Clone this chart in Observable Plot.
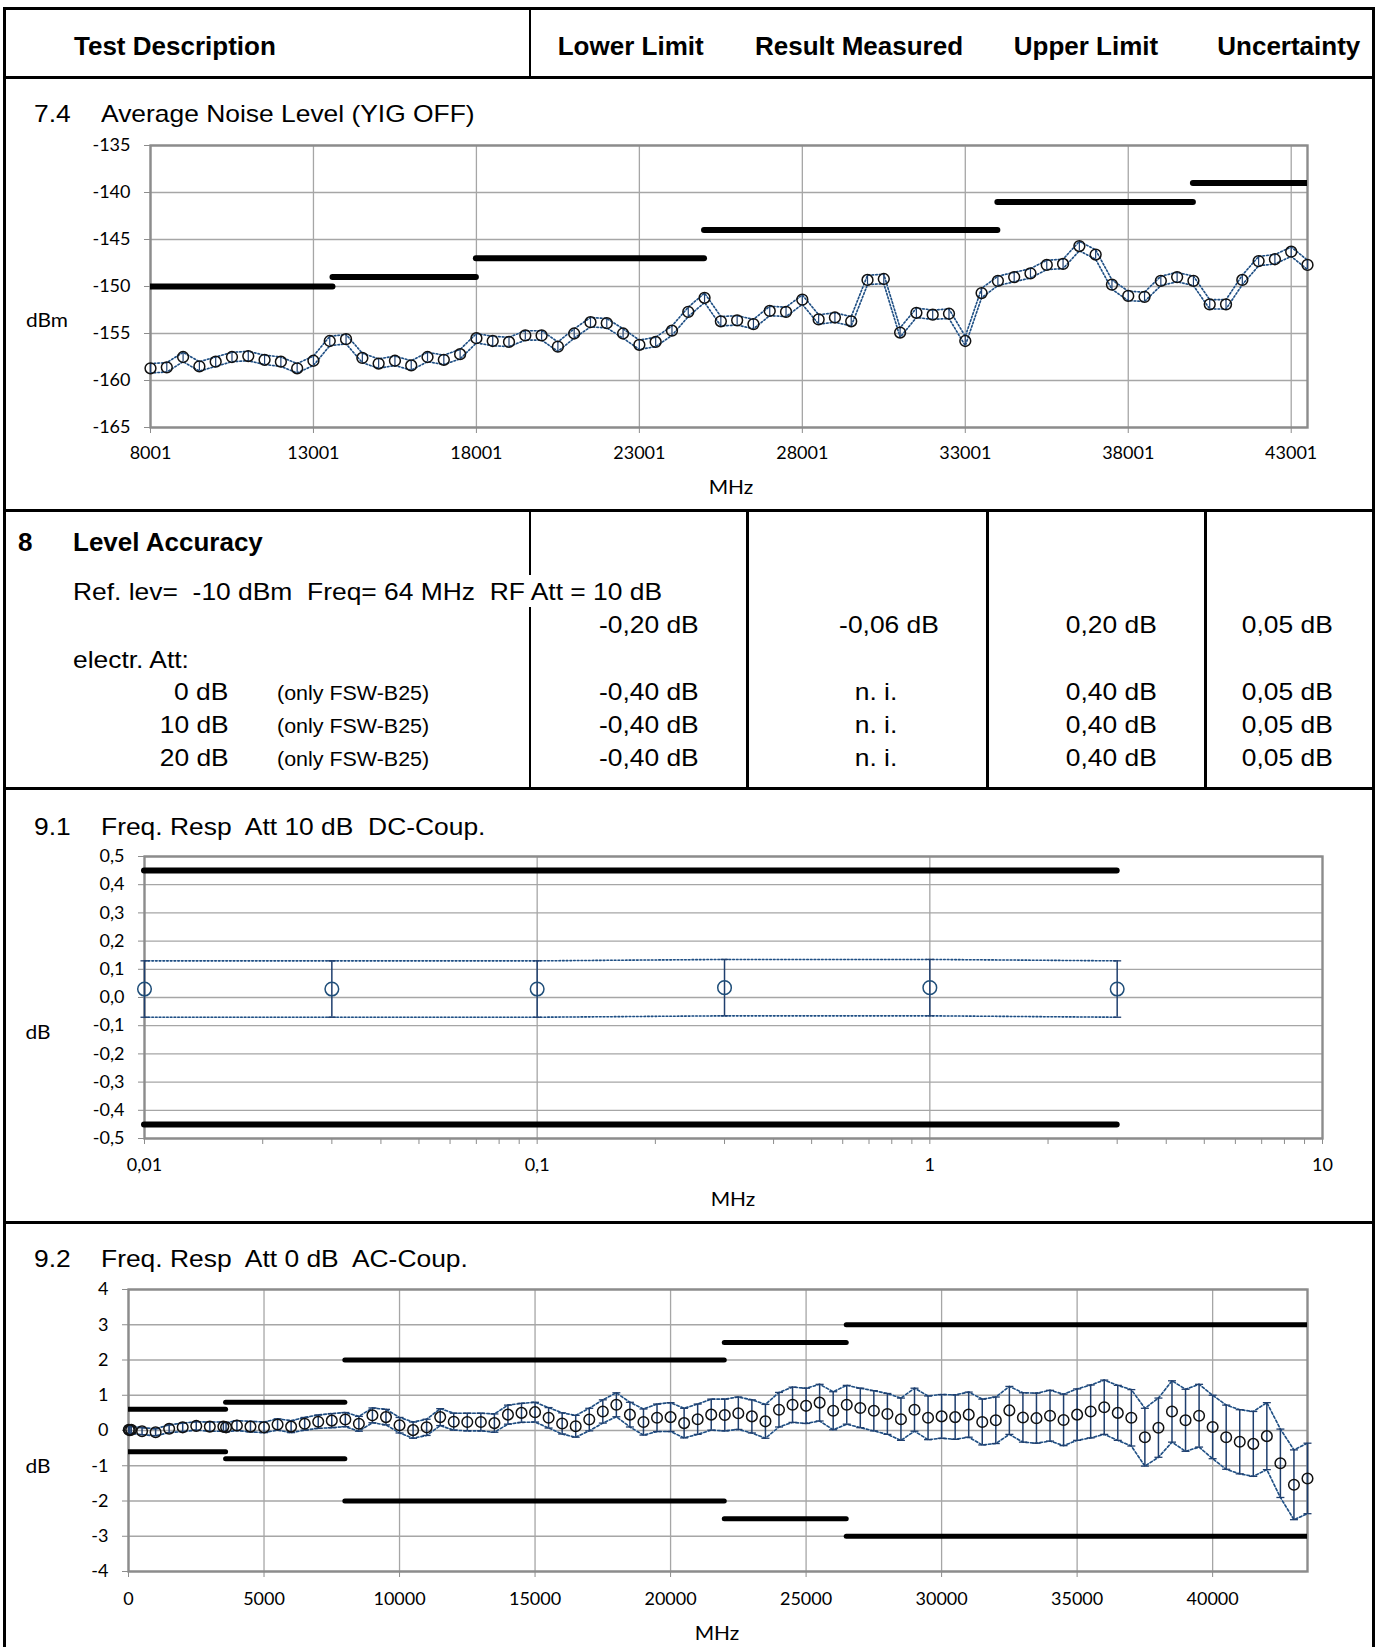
<!DOCTYPE html>
<html>
<head>
<meta charset="utf-8">
<script src="https://cdn.jsdelivr.net/npm/d3@7"></script>
<script src="https://cdn.jsdelivr.net/npm/@observablehq/plot@0.6"></script>
<style>
  html, body { margin: 0; padding: 0; background: white; }
  #page { position: relative; width: 1379px; height: 1647px; background: white; overflow: hidden; }
</style>
</head>
<body>
<div id="page"></div>
<script>
// ---------------- DATA ----------------
// 7.4 Average Noise Level (YIG OFF)
const noiseFreq = [8001,8501,9001,9501,10001,10501,11001,11501,12001,12501,
  13001,13501,14001,14501,15001,15501,16001,16501,17001,17501,
  18001,18501,19001,19501,20001,20501,21001,21501,22001,22501,
  23001,23501,24001,24501,25001,25501,26001,26501,27001,27501,
  28001,28501,29001,29501,30001,30501,31001,31501,32001,32501,
  33001,33501,34001,34501,35001,35501,36001,36501,37001,37501,
  38001,38501,39001,39501,40001,40501,41001,41501,42001,42501,
  43001,43501];
const noiseLevel = [-158.7,-158.6,-157.5,-158.5,-158.0,-157.5,-157.4,-157.8,-158.0,-158.7,
  -157.9,-155.8,-155.6,-157.6,-158.2,-157.9,-158.4,-157.5,-157.8,-157.2,
  -155.5,-155.8,-155.9,-155.2,-155.2,-156.4,-155.0,-153.8,-153.9,-155.0,
  -156.2,-155.9,-154.7,-152.7,-151.2,-153.7,-153.6,-154.0,-152.6,-152.7,
  -151.4,-153.5,-153.3,-153.7,-149.3,-149.2,-154.9,-152.8,-153.0,-152.9,
  -155.8,-150.7,-149.4,-149.0,-148.6,-147.7,-147.6,-145.7,-146.6,-149.8,
  -151.0,-151.1,-149.4,-149.0,-149.4,-151.9,-151.9,-149.3,-147.3,-147.1,
  -146.3,-147.7];
const noiseUnc = 0.5;
const noiseLimX1 = [8001, 13600, 18000, 25000, 34000, 40000];
const noiseLimX2 = [13600, 18000, 25000, 34000, 40000, 43501];
const noiseLimY  = [-150, -149, -147, -144, -141, -139];
const noiseTicksX = [8001, 13001, 18001, 23001, 28001, 33001, 38001, 43001];
const noiseTicksY = [-165, -160, -155, -150, -145, -140, -135];

// 9.1 Freq. Resp Att 10 dB DC-Coup.
const dcFreq  = [0.01, 0.03, 0.1, 0.3, 1, 3];
const dcLevel = [0.03, 0.03, 0.03, 0.035, 0.035, 0.03];
const dcUnc   = [0.1, 0.1, 0.1, 0.1, 0.1, 0.1];
const dcLimX1 = [0.01, 0.01];
const dcLimX2 = [3, 3];
const dcLimY  = [0.45, -0.45];
const dcTicksX = [0.01, 0.1, 1, 10];
const dcTickLabels = ["0,01", "0,1", "1", "10"];
const dcMinorX = [0.02,0.03,0.04,0.05,0.06,0.07,0.08,0.09,0.2,0.3,0.4,0.5,0.6,0.7,0.8,0.9,2,3,4,5,6,7,8,9];
const dcTicksY = [-0.5,-0.4,-0.3,-0.2,-0.1,0,0.1,0.2,0.3,0.4,0.5];

// 9.2 Freq. Resp Att 0 dB AC-Coup.
const acFreq = [10,50,100,500,1000,1500,2000,2500,3000,3500,3600,
  4000,4500,5000,5500,6000,6500,7000,7500,8000,8500,
  9000,9500,10000,10500,11000,11500,12000,12500,13000,13500,
  14000,14500,15000,15500,16000,16500,17000,17500,18000,18500,
  19000,19500,20000,20500,21000,21500,22000,22500,23000,23500,
  24000,24500,25000,25500,26000,26500,27000,27500,28000,28500,
  29000,29500,30000,30500,31000,31500,32000,32500,33000,33500,
  34000,34500,35000,35500,36000,36500,37000,37500,38000,38500,
  39000,39500,40000,40500,41000,41500,42000,42500,43000,43500];
const acLevel = [0.02,0.01,0.02,-0.02,-0.05,0.05,0.09,0.13,0.11,0.11,0.09,
  0.14,0.11,0.09,0.17,0.11,0.19,0.25,0.28,0.31,0.19,
  0.43,0.38,0.15,0.01,0.09,0.38,0.25,0.24,0.24,0.21,
  0.45,0.50,0.52,0.36,0.20,0.12,0.31,0.54,0.73,0.45,
  0.24,0.36,0.38,0.21,0.32,0.45,0.44,0.49,0.40,0.26,
  0.59,0.73,0.70,0.79,0.56,0.73,0.64,0.56,0.47,0.32,
  0.59,0.36,0.40,0.38,0.45,0.24,0.29,0.57,0.37,0.35,
  0.42,0.30,0.45,0.54,0.66,0.50,0.36,-0.19,0.08,0.54,
  0.29,0.42,0.10,-0.19,-0.32,-0.38,-0.16,-0.93,-1.54,-1.36];
const acUnc = [0.10,0.10,0.10,0.10,0.10,0.11,0.12,0.12,0.13,0.13,0.13,
  0.14,0.15,0.15,0.16,0.17,0.18,0.19,0.20,0.20,0.21,
  0.21,0.22,0.22,0.23,0.23,0.24,0.24,0.25,0.25,0.26,
  0.27,0.27,0.28,0.29,0.30,0.31,0.32,0.33,0.34,0.35,
  0.37,0.39,0.41,0.42,0.43,0.44,0.45,0.46,0.47,0.48,
  0.49,0.50,0.50,0.52,0.54,0.55,0.56,0.57,0.58,0.60,
  0.61,0.62,0.62,0.63,0.64,0.65,0.66,0.68,0.70,0.71,
  0.72,0.73,0.73,0.75,0.77,0.78,0.80,0.82,0.84,0.87,
  0.88,0.89,0.90,0.91,0.91,0.92,0.95,0.97,0.99,1.00];
const acLimX1 = [0, 3600, 8000, 22000, 26500];
const acLimX2 = [3600, 8000, 22000, 26500, 43500];
const acLimUpper = [0.6, 0.8, 2, 2.5, 3];
const acLimLower = [-0.6, -0.8, -2, -2.5, -3];
const acTicksX = [0, 5000, 10000, 15000, 20000, 25000, 30000, 35000, 40000];
const acTicksY = [-4, -3, -2, -1, 0, 1, 2, 3, 4];

// ---------------- STYLE ----------------
const W = 1379;
const SANS = "'Liberation Sans', Arial, sans-serif";
const GRID = "#a6a6a6";
const AXIS = "#8c8c8c";
const NAVY = "#1f3f6e";
const DOT_NAVY = "#1f4e82";
const LIGHT = "#cddcec";
const plotStyle = {fontFamily: "Lato, sans-serif", fontSize: "18px", color: "black", background: "transparent", overflow: "visible"};

const page = document.getElementById("page");

function place(svg, top) {
  svg.style.position = "absolute";
  svg.style.left = "0px";
  svg.style.top = top + "px";
  svg.style.maxWidth = "none";
  page.appendChild(svg);
}

const capSymbol = {draw(ctx) { ctx.moveTo(-4, 0); ctx.lineTo(4, 0); }};

function bandMarks(rows, {r, dotStroke, dash, barW, caps}) {
  const up = d => d.v + d.u, lo = d => d.v - d.u;
  const m = [
    Plot.line(rows, {x: "f", y: up, stroke: LIGHT, strokeWidth: 1.4}),
    Plot.line(rows, {x: "f", y: lo, stroke: LIGHT, strokeWidth: 1.4}),
    Plot.line(rows, {x: "f", y: up, stroke: DOT_NAVY, strokeWidth: 1.6, strokeDasharray: dash}),
    Plot.line(rows, {x: "f", y: lo, stroke: DOT_NAVY, strokeWidth: 1.6, strokeDasharray: dash}),
    Plot.ruleX(rows, {x: "f", y1: lo, y2: up, stroke: NAVY, strokeWidth: barW})
  ];
  if (caps) {
    m.push(Plot.dot(rows, {x: "f", y: up, symbol: capSymbol, r: 4, stroke: NAVY, fill: "none", strokeWidth: 1.3}));
    m.push(Plot.dot(rows, {x: "f", y: lo, symbol: capSymbol, r: 4, stroke: NAVY, fill: "none", strokeWidth: 1.3}));
  }
  m.push(Plot.dot(rows, {x: "f", y: "v", r, stroke: dotStroke, fill: "none", strokeWidth: 1.5}));
  return m;
}

// ---------------- CHART 7.4 ----------------
const noiseRows = noiseFreq.map((f, i) => ({f, v: noiseLevel[i], u: noiseUnc}));
const noiseLimRows = noiseLimY.map((y, i) => ({x1: noiseLimX1[i], x2: noiseLimX2[i], y}));
const c74 = Plot.plot({
  width: W, height: 385,
  marginLeft: 150, marginRight: 72, marginTop: 20, marginBottom: 83,
  x: {domain: [8001, 43501]},
  y: {domain: [-165, -135]},
  style: plotStyle,
  marks: [
    Plot.gridX({ticks: noiseTicksX, stroke: GRID, strokeOpacity: 1, strokeWidth: 1.3}),
    Plot.gridY({ticks: noiseTicksY, stroke: GRID, strokeOpacity: 1, strokeWidth: 1.3}),
    Plot.frame({stroke: AXIS, strokeWidth: 2.4}),
    Plot.axisX({ticks: noiseTicksX, tickFormat: d => String(d), tickSize: 6, tickPadding: 13, stroke: AXIS, fill: "black", label: null}),
    Plot.axisY({ticks: noiseTicksY, tickFormat: d => String(d), tickSize: 6, tickPadding: 14, stroke: AXIS, fill: "black", label: null}),
    Plot.ruleY(noiseLimRows, {y: "y", x1: "x1", x2: "x2", stroke: "black", strokeWidth: 6, strokeLinecap: "round", clip: true}),
    ...bandMarks(noiseRows, {r: 5.4, dotStroke: "#111", dash: "1.5,2.2", barW: 1.2, caps: false})
  ]
});
place(c74, 125);

// ---------------- CHART 9.1 ----------------
const dcRows = dcFreq.map((f, i) => ({f, v: dcLevel[i], u: dcUnc[i]}));
const dcLimRows = dcLimY.map((y, i) => ({x1: dcLimX1[i], x2: dcLimX2[i], y}));
const dcAllTicks = [...dcTicksX, ...dcMinorX].sort((a, b) => a - b);
const c91 = Plot.plot({
  width: W, height: 386,
  marginLeft: 144, marginRight: 57, marginTop: 21, marginBottom: 83,
  x: {type: "log", domain: [0.01, 10]},
  y: {domain: [-0.5, 0.5]},
  style: plotStyle,
  marks: [
    Plot.gridX({ticks: [0.1, 1], stroke: GRID, strokeOpacity: 1, strokeWidth: 1.3}),
    Plot.gridY({ticks: dcTicksY, stroke: GRID, strokeOpacity: 1, strokeWidth: 1.3}),
    Plot.frame({stroke: AXIS, strokeWidth: 2.4}),
    Plot.axisX({ticks: dcAllTicks, tickFormat: d => { const k = dcTicksX.indexOf(d); return k >= 0 ? dcTickLabels[k] : ""; }, tickSize: 6, tickPadding: 14, stroke: AXIS, fill: "black", label: null}),
    Plot.axisY({ticks: dcTicksY, tickFormat: d => d.toFixed(1).replace(".", ","), tickSize: 6, tickPadding: 14, stroke: AXIS, fill: "black", label: null}),
    Plot.ruleY(dcLimRows, {y: "y", x1: "x1", x2: "x2", stroke: "black", strokeWidth: 6, strokeLinecap: "round"}),
    ...bandMarks(dcRows, {r: 6.8, dotStroke: "#1f4e79", dash: "1.5,2.2", barW: 1.5, caps: true})
  ]
});
place(c91, 835);

// ---------------- CHART 9.2 ----------------
const acRows = acFreq.map((f, i) => ({f, v: acLevel[i], u: acUnc[i]}));
const acLimRows = [
  ...acLimUpper.map((y, i) => ({x1: acLimX1[i], x2: acLimX2[i], y})),
  ...acLimLower.map((y, i) => ({x1: acLimX1[i], x2: acLimX2[i], y}))
];
const c92 = Plot.plot({
  width: W, height: 377,
  marginLeft: 128, marginRight: 72, marginTop: 19, marginBottom: 76,
  x: {domain: [0, 43500]},
  y: {domain: [-4, 4]},
  style: plotStyle,
  marks: [
    Plot.gridX({ticks: acTicksX, stroke: GRID, strokeOpacity: 1, strokeWidth: 1.3}),
    Plot.gridY({ticks: acTicksY, stroke: GRID, strokeOpacity: 1, strokeWidth: 1.3}),
    Plot.frame({stroke: AXIS, strokeWidth: 2.4}),
    Plot.axisX({ticks: acTicksX, tickFormat: d => String(d), tickSize: 6, tickPadding: 15, stroke: AXIS, fill: "black", label: null}),
    Plot.axisY({ticks: acTicksY, tickFormat: d => String(d), tickSize: 6, tickPadding: 14, stroke: AXIS, fill: "black", label: null}),
    Plot.ruleY(acLimRows, {y: "y", x1: "x1", x2: "x2", stroke: "black", strokeWidth: 5, strokeLinecap: "round", clip: true}),
    ...bandMarks(acRows, {r: 5.3, dotStroke: "#111", dash: "2.5,2.2", barW: 1.5, caps: true})
  ]
});
place(c92, 1270);

// ---------------- TABLE TEXT & LINES ----------------
function txt(str, x, y, {anchor = "start", size = 24, weight = 400, scale = 1.1, family = SANS} = {}) {
  const d = document.createElement("div");
  d.textContent = str;
  const L = 40;
  Object.assign(d.style, {
    position: "absolute", top: (y - L / 2) + "px", height: L + "px", lineHeight: L + "px",
    whiteSpace: "pre", fontFamily: family, fontSize: size + "px", fontWeight: weight,
    color: "black", zIndex: 3
  });
  if (anchor === "start") { d.style.left = x + "px"; d.style.transformOrigin = "left center"; }
  else if (anchor === "end") { d.style.right = (W - x) + "px"; d.style.textAlign = "right"; d.style.transformOrigin = "right center"; }
  else { d.style.left = (x - 400) + "px"; d.style.width = "800px"; d.style.textAlign = "center"; d.style.transformOrigin = "center center"; }
  d.style.transform = `scaleX(${scale})`;
  page.appendChild(d);
}
function box(x, y, w, h) {
  const d = document.createElement("div");
  Object.assign(d.style, {position: "absolute", left: x + "px", top: y + "px", width: w + "px", height: h + "px", background: "black", zIndex: 4});
  page.appendChild(d);
}
function hline(x1, x2, y, t = 3) { box(x1, y - t / 2, x2 - x1, t); }
function vline(x, y1, y2, t = 3) { box(x - t / 2, y1, t, y2 - y1); }

// outer frame & section lines
hline(3, 1375, 8);
vline(4.5, 6.5, 1647);
vline(1373, 6.5, 1647);
hline(3, 1375, 77);
vline(530, 8, 77, 2.5);
hline(3, 1375, 510);
vline(530, 510, 575, 2.5);
vline(530, 607, 788, 2.5);
vline(747.5, 510, 788, 3);
vline(987.5, 510, 788, 3);
vline(1205, 510, 788, 3);
hline(3, 1375, 788);
hline(3, 1375, 1222);

// header
const B = {weight: 700, size: 26, scale: 1};
txt("Test Description", 74, 46, B);
txt("Lower Limit", 630.7, 46, {...B, anchor: "middle"});
txt("Result Measured", 859, 46, {...B, anchor: "middle"});
txt("Upper Limit", 1086, 46, {...B, anchor: "middle"});
txt("Uncertainty", 1288.8, 46, {...B, anchor: "middle"});

// 7.4
txt("7.4", 33.5, 114);
txt("Average Noise Level (YIG OFF)", 100.8, 114);
const AX = {family: "Lato, sans-serif", size: 19, scale: 1.1};
txt("dBm", 47, 320, {...AX, anchor: "middle"});
txt("MHz", 731, 487, {...AX, anchor: "middle"});

// 8
txt("8", 18, 542, B);
txt("Level Accuracy", 73, 542, B);
txt("Ref. lev=  -10 dBm  Freq= 64 MHz  RF Att = 10 dB", 73, 592);
txt("-0,20 dB", 699, 625, {anchor: "end"});
txt("-0,06 dB", 888.6, 625, {anchor: "middle"});
txt("0,20 dB", 1156.5, 625, {anchor: "end"});
txt("0,05 dB", 1333, 625, {anchor: "end"});
txt("electr. Att:", 73, 660);
const attRows = ["0 dB", "10 dB", "20 dB"];
const attY = [691.7, 724.5, 757.8];
attRows.forEach((a, i) => {
  const y = attY[i];
  txt(a, 228.7, y, {anchor: "end"});
  txt("(only FSW-B25)", 277, y + 1, {size: 19.5});
  txt("-0,40 dB", 699, y, {anchor: "end"});
  txt("n. i.", 875.5, y, {anchor: "middle"});
  txt("0,40 dB", 1156.5, y, {anchor: "end"});
  txt("0,05 dB", 1333, y, {anchor: "end"});
});

// 9.1
txt("9.1", 33.5, 826.7);
txt("Freq. Resp  Att 10 dB  DC-Coup.", 100.8, 826.7);
txt("dB", 38, 1032, {...AX, anchor: "middle"});
txt("MHz", 733, 1199, {...AX, anchor: "middle"});

// 9.2
txt("9.2", 33.5, 1259.3);
txt("Freq. Resp  Att 0 dB  AC-Coup.", 100.8, 1259.3);
txt("dB", 38, 1466, {...AX, anchor: "middle"});
txt("MHz", 717, 1633, {...AX, anchor: "middle"});
</script>
</body>
</html>
